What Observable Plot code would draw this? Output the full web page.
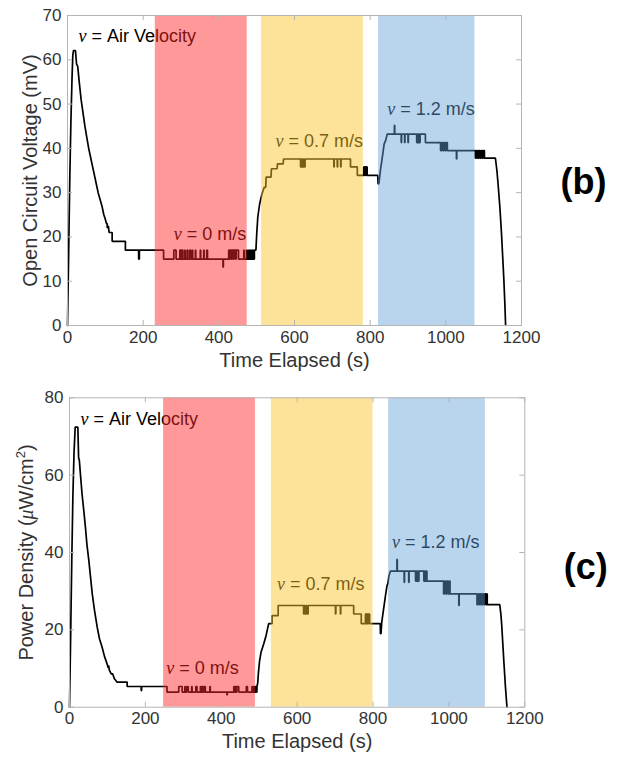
<!DOCTYPE html>
<html>
<head>
<meta charset="utf-8">
<script src="https://cdn.jsdelivr.net/npm/d3@7"></script>
<script src="https://cdn.jsdelivr.net/npm/@observablehq/plot@0.6"></script>
<style>
  html, body { margin: 0; padding: 0; background: white; }
  #root { width: 617px; }
  #root svg { display: block; }
</style>
</head>
<body>
<div id="root"></div>
<script>
// ---------- DATA ----------
const xTicks = [0, 200, 400, 600, 800, 1000, 1200];
const ocvTicks = [0, 10, 20, 30, 40, 50, 60, 70];
const powerTicks = [0, 20, 40, 60, 80];

// shaded air-velocity intervals (s)
const ocvBands = [
  {label: "0 m/s", start: 232, end: 475, color: "#ff2828", opacity: 0.48},
  {label: "0.7 m/s", start: 513, end: 782, color: "#fac429", opacity: 0.48},
  {label: "1.2 m/s", start: 822, end: 1077, color: "#64a0d7", opacity: 0.45}
];
const powerBands = [
  {label: "0 m/s", start: 248, end: 490, color: "#ff2828", opacity: 0.48},
  {label: "0.7 m/s", start: 532, end: 800, color: "#fac429", opacity: 0.48},
  {label: "1.2 m/s", start: 841, end: 1096, color: "#64a0d7", opacity: 0.45}
];

// annotations: t (s), baseline value
const ocvNotes = [
  {t: 29, v: 64.0, label: "ν = Air Velocity"},
  {t: 281, v: 19.35, label: "ν = 0 m/s"},
  {t: 550, v: 40.3, label: "ν = 0.7 m/s"},
  {t: 845, v: 47.4, label: "ν = 1.2 m/s"}
];
const powerNotes = [
  {t: 29, v: 73.0, label: "ν = Air Velocity"},
  {t: 255, v: 8.6, label: "ν = 0 m/s"},
  {t: 547, v: 30.2, label: "ν = 0.7 m/s"},
  {t: 850, v: 41.0, label: "ν = 1.2 m/s"}
];

// Open circuit voltage (mV) vs time (s)
const ocvSeries = [
  [0,0],[3,16],[6,33],[9,46],[12,56],[14,61],[16,62.1],[21,62.1],[24,59],[27,58.5],[31,55],[36,51],[41,48],[46,45],[51,42.5],[56,40],[61,38],[66,36],[71,34],[76,32],[81,30],[86,28.5],[91,27],[96,25],[100,24],[103,23],[105,23],[105,22],[108,22.5],[110,21],[118,21],[118,19],[153,19],[153,17],[188,17],[188,15],[190,15],[190,17],[254,17],[254,15],
  [281,15],[281,17],[287,17],[287,15],
  [297,15],[297,17],[298,17],[298,15],[300,15],[300,17],[301,17],[301,15],[303,15],[303,17],[305,17],[305,15],
  [310,15],[310,17],[311,17],[311,15],
  [316,15],[316,17],[318,17],[318,15],
  [323,15],[323,17],[326,17],[326,15],
  [330,15],[330,17],[331,17],[331,15],
  [338,15],[338,17],[339,17],[339,15],
  [351,15],[351,17],[352,17],[352,15],
  [360,15],[360,17],[361,17],[361,15],
  [368,15],[368,17],[370,17],[370,15],
  [411,15],[411,13.2],[412,13.2],[412,15],
  [426,15],[426,17],[428,17],[428,15],[430,15],[430,17],[433,17],[433,15],[435,15],[435,17],[438,17],[438,15],[440,15],[440,17],[444,17],[444,15],[446,15],[446,17],[452,17],[452,15],
  [466,15],[466,17],[467,17],[467,15],
  [473,15],[473,17],[475,17],[475,15],
  [479,15],[479,17],[481,17],[481,15],[484,15],[484,17],[486,17],[486,15],[489,15],[489,17],[491,17],[491,15],[494,15],[494,17],[498,17],
  [500,20.5],[503,24.5],[508,27.5],[514,29.7],[520,31.2],[524,31.2],[525,33.5],[538,33.5],[539,35.4],[554,35.4],[555,36.5],[570,36.5],[571,37.6],
  [616,37.6],[616,35.8],[618,35.8],[618,37.6],[620,37.6],[620,35.8],[623,35.8],[623,37.6],[625,37.6],[625,35.8],[628,35.8],[628,37.6],
  [704,37.6],[704,35.8],[705,35.8],[705,37.6],[713,37.6],[713,35.8],[714,35.8],[714,37.6],[722,37.6],[722,35.8],[723,35.8],[723,37.6],
  [748,37.6],[748,35.8],[766,35.8],[766,33.9],[783,33.9],[783,35.8],[785,35.8],[785,33.9],[787,33.9],[787,35.8],[789,35.8],[789,33.9],[790,33.9],[790,35.8],[792,35.8],[792,33.9],
  [820,33.9],[821,32],[823,32],[827,35],[833,38.5],[837,41],[841,41.8],[845,43.2],
  [864,43.2],[864,45.2],[865,45.2],[865,43.2],
  [882,43.2],[882,41.3],[883,41.3],[883,43.2],[891,43.2],[891,41.3],[892,41.3],[892,43.2],[900,43.2],[900,41.3],[901,41.3],[901,43.2],
  [923,43.2],[923,41.3],[925,41.3],[925,43.2],[927,43.2],[927,41.3],[929,41.3],[929,43.2],[931,43.2],[931,41.3],[932,41.3],[932,43.2],
  [946,43.2],[946,41.3],[986,41.3],[986,39.5],[989,39.5],[989,41.3],[992,41.3],[992,39.5],[995,39.5],[995,41.3],[998,41.3],[998,39.5],[1001,39.5],[1001,41.3],[1004,41.3],[1004,39.5],
  [1028,39.5],[1028,37.6],[1029,37.6],[1029,39.5],
  [1078,39.5],[1078,37.8],[1081,37.8],[1081,39.5],[1084,39.5],[1084,37.8],[1087,37.8],[1087,39.5],[1090,39.5],[1090,37.8],[1093,37.8],[1093,39.5],[1096,39.5],[1096,37.8],[1099,37.8],[1099,39.5],[1102,39.5],[1102,37.8],
  [1131,37.8],[1135,35],[1139,31],[1143,26.5],[1147,21],[1150,16],[1153,11],[1156,5],[1158,0]
];

// Power density (µW/cm²) vs time (s)
const powerSeries = [
  [0,0],[3,18],[6,38],[9,55],[12,66],[15,72.4],[22,72.4],[24,64.5],[26,63.8],[29,60],[33,55.2],[38,50.5],[42,46.5],[46,42],[51,37.9],[55,34],[60,29.3],[66,25],[73,20.7],[79,17.7],[86,15.5],[92,13.2],[99,11.2],[102,10.2],[103,10.8],[105,9.6],[110,8.6],[114,8.6],[118,7.4],[125,6.5],[152,6.5],[152,5.35],[189,5.35],[189,4.3],[190,4.3],[190,5.35],[257,5.35],[257,3.9],
  [288,3.9],[288,5.35],[297,5.35],[297,3.9],
  [304,3.9],[304,5.35],[305,5.35],[305,3.9],[309,3.9],[309,5.35],[313,5.35],[313,3.9],
  [322,3.9],[322,5.35],[323,5.35],[323,3.9],
  [333,3.9],[333,5.35],[336,5.35],[336,3.9],
  [345,3.9],[345,5.35],[347,5.35],[347,3.9],[350,3.9],[350,5.35],[352,5.35],[352,3.9],[355,3.9],[355,5.35],[358,5.35],[358,3.9],
  [370,3.9],[370,5.35],[371,5.35],[371,3.9],
  [415,3.9],[415,3.2],[416,3.2],[416,3.9],
  [433,3.9],[433,5.35],[435,5.35],[435,3.9],[437,3.9],[437,5.35],[439,5.35],[439,3.9],[441,3.9],[441,5.35],[446,5.35],[446,3.9],
  [466,3.9],[466,5.35],[469,5.35],[469,3.9],
  [481,3.9],[481,5.35],[482,5.35],[482,3.9],[485,3.9],[485,5.35],[486,5.35],[486,3.9],[489,3.9],[489,5.35],[491,5.35],[491,3.9],
  [494,3.9],[494,5.35],[496,6.2],[498,9],[501,12],[505,14.3],[512,16.4],[518,18.5],[525,21.6],[534,21.6],[534,23.7],[550,23.7],[550,26.3],
  [617,26.3],[617,24.1],[619,24.1],[619,26.3],[621,26.3],[621,24.1],[624,24.1],[624,26.3],[626,26.3],[626,24.1],[629,24.1],[629,26.3],
  [701,26.3],[701,24.1],[702,24.1],[702,26.3],[714,26.3],[714,24.1],[715,24.1],[715,26.3],
  [749,26.3],[749,24.1],[769,24.1],[769,21.6],[780,21.6],[780,24.1],[782,24.1],[782,21.6],[784,21.6],[784,24.1],[786,24.1],[786,21.6],[788,21.6],[788,24.1],[791,24.1],[791,21.6],
  [819,21.6],[819.5,19],[821,19],[823,22],[828,25.5],[833,29],[837,31.5],[839,31.9],[842,34],[846,35.2],
  [863,35.2],[863,38.2],[864,38.2],[864,35.2],
  [882,35.2],[882,32.3],[883,32.3],[883,35.2],[894,35.2],[894,32.3],[895,32.3],[895,35.2],
  [912,35.2],[912,32.6],[914,32.6],[914,35.2],[916,35.2],[916,32.6],[918,32.6],[918,35.2],[920,35.2],[920,32.6],[921,32.6],[921,35.2],
  [934,35.2],[934,32.6],[936,32.6],[936,35.2],[938,35.2],[938,32.6],[940,32.6],[940,35.2],[942,35.2],[942,32.6],
  [986,32.6],[986,29.3],[989,29.3],[989,32.6],[992,32.6],[992,29.3],[995,29.3],[995,32.6],[998,32.6],[998,29.3],[1001,29.3],[1001,32.6],[1003,32.6],[1003,29.3],
  [1026,29.3],[1026,26.3],[1027,26.3],[1027,29.3],
  [1074,29.3],[1074,26.5],[1077,26.5],[1077,29.3],[1080,29.3],[1080,26.5],[1083,26.5],[1083,29.3],[1086,29.3],[1086,26.5],[1089,26.5],[1089,29.3],[1092,29.3],[1092,26.5],[1095,26.5],[1095,29.3],[1098,29.3],[1098,26.5],[1100,26.5],[1100,29.3],[1101,29.3],[1101,26.5],
  [1134,26.5],[1137,24],[1139,21.5],[1142,16.5],[1145,11.5],[1149,5.2],[1153,0]
];

// ---------- RENDER ----------
const FONT = "Liberation Sans, Arial, Helvetica, sans-serif";
const TXT = "#333333";
const AXC = "#b4b4b4";

function panel(o) {
  const W = 617;
  const plotW = W - o.marginLeft - o.marginRight;
  const plotH = o.height - o.marginTop - o.marginBottom;
  const tl = 5;
  return Plot.plot({
    width: W,
    height: o.height,
    marginTop: o.marginTop,
    marginBottom: o.marginBottom,
    marginLeft: o.marginLeft,
    marginRight: o.marginRight,
    style: {fontFamily: FONT, background: "white", overflow: "visible"},
    x: {domain: [0, 1200], axis: null},
    y: {domain: o.yDomain, axis: null},
    marks: [
      Plot.line(o.series, {x: d => d[0], y: d => d[1], stroke: "black", strokeWidth: 1.7, strokeLinejoin: "miter"}),
      Plot.text(o.notes, {x: "t", y: "v", text: "label", textAnchor: "start", fontSize: 18, fill: "black", dy: -6}),
      Plot.rect(o.bands, {x1: "start", x2: "end", fill: "color", fillOpacity: "opacity"}),
      Plot.frame({stroke: AXC, strokeWidth: 1}),
      Plot.tickX(xTicks, {x: d => d, insetTop: plotH - tl, stroke: AXC}),
      Plot.tickX(xTicks, {x: d => d, insetBottom: plotH - tl, stroke: AXC}),
      Plot.tickY(o.yTicks, {y: d => d, insetRight: plotW - tl, stroke: AXC}),
      Plot.tickY(o.yTicks, {y: d => d, insetLeft: plotW - tl, stroke: AXC}),
      Plot.text(xTicks, {x: d => d, frameAnchor: "bottom", dy: o.xTickDy, textAnchor: "middle", text: d => String(d), fontSize: 17, fill: TXT}),
      Plot.text(o.yTicks, {y: d => d, frameAnchor: "left", dx: -6, textAnchor: "end", text: d => String(d), fontSize: 17, fill: TXT}),
      Plot.text(["Time Elapsed (s)"], {frameAnchor: "bottom", dy: o.xLabelDy, textAnchor: "middle", fontSize: 20, fill: TXT}),
      Plot.text([o.yLabel], {frameAnchor: "left", rotate: -90, dx: o.yLabelDx, textAnchor: "middle", fontSize: 20, fill: TXT}),
      Plot.text([o.tag], {frameAnchor: "right", dx: o.tagDx, dy: o.tagDy, textAnchor: "middle", fontSize: 36, fontWeight: "bold", fill: "black"})
    ]
  });
}

// style Greek letters as italic serif (LaTeX look) and superscript ²
function richText(svg) {
  const NS = "http://www.w3.org/2000/svg";
  svg.querySelectorAll("text").forEach(el => {
    const s = el.textContent;
    if (!/[νμ²]/.test(s)) return;
    while (el.firstChild) el.removeChild(el.firstChild);
    let buf = "";
    let shifted = false;
    const flush = () => {
      if (!buf) return;
      const t = document.createElementNS(NS, "tspan");
      t.textContent = buf;
      if (shifted) { t.setAttribute("dy", "8"); shifted = false; }
      el.appendChild(t);
      buf = "";
    };
    for (const ch of s) {
      if (ch === "ν" || ch === "μ") {
        flush();
        const t = document.createElementNS(NS, "tspan");
        t.textContent = ch;
        t.setAttribute("font-family", "Liberation Serif, DejaVu Serif, serif");
        t.setAttribute("font-style", "italic");
        if (shifted) { t.setAttribute("dy", "8"); shifted = false; }
        el.appendChild(t);
      } else if (ch === "²") {
        flush();
        const t = document.createElementNS(NS, "tspan");
        t.textContent = "2";
        t.setAttribute("font-size", "13");
        t.setAttribute("dy", "-8");
        el.appendChild(t);
        shifted = true;
      } else {
        buf += ch;
      }
    }
    flush();
  });
}

const root = document.getElementById("root");

const figB = panel({
  series: ocvSeries, bands: ocvBands, notes: ocvNotes,
  yDomain: [0, 70], yTicks: ocvTicks,
  yLabel: "Open Circuit Voltage (mV)", tag: "(b)",
  height: 380, marginTop: 15, marginBottom: 55, marginLeft: 67, marginRight: 96,
  xTickDy: 17, xLabelDy: 41, yLabelDx: -37, tagDx: 62, tagDy: 11.5
});
const figC = panel({
  series: powerSeries, bands: powerBands, notes: powerNotes,
  yDomain: [0, 80], yTicks: powerTicks,
  yLabel: "Power Density (μW/cm²)", tag: "(c)",
  height: 380, marginTop: 17.3, marginBottom: 53.3, marginLeft: 69, marginRight: 92.7,
  xTickDy: 16.7, xLabelDy: 40.5, yLabelDx: -42.5, tagDx: 61, tagDy: 14.5
});
richText(figB);
richText(figC);
root.appendChild(figB);
root.appendChild(figC);
</script>
</body>
</html>
